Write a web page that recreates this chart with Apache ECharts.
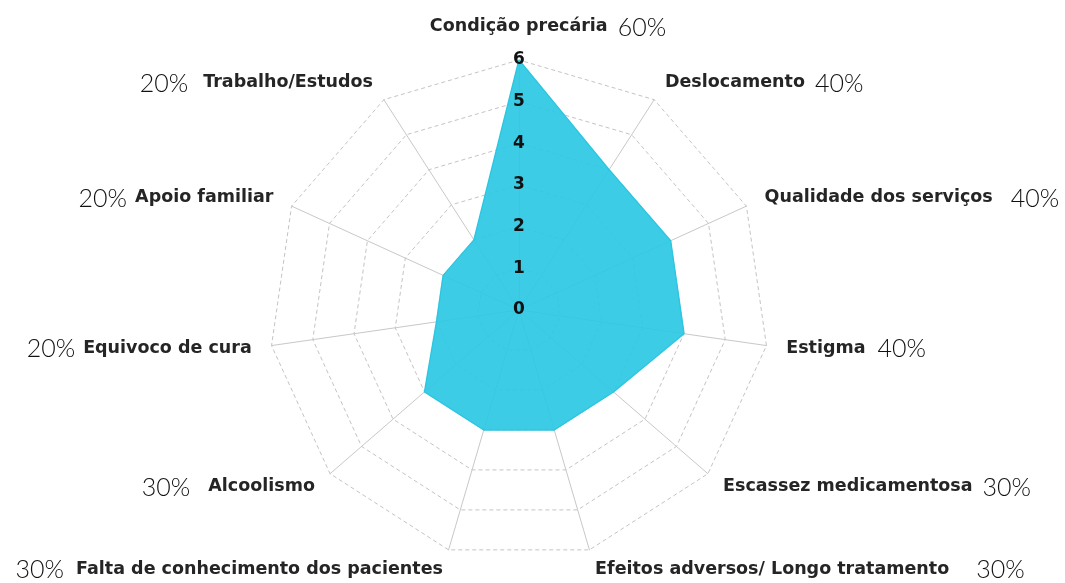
<!DOCTYPE html>
<html>
<head>
<meta charset="utf-8">
<script src="https://cdn.jsdelivr.net/npm/echarts@6/dist/echarts.min.js"></script>
<style>
  html, body { margin: 0; padding: 0; background: #fff; }
  #chart { width: 1065px; height: 583px; }
</style>
</head>
<body>
<div id="chart"></div>
<script>
// indicadores na ordem do ECharts (anti-horário a partir do topo)
var categorias = [
  'Condição precária', 'Trabalho/Estudos', 'Apoio familiar', 'Equivoco de cura',
  'Alcoolismo', 'Falta de conhecimento dos pacientes',
  'Efeitos adversos/ Longo tratamento', 'Escassez medicamentosa',
  'Estigma', 'Qualidade dos serviços', 'Deslocamento'
];
var valores = [6, 2, 2, 2, 3, 3, 3, 3, 4, 4, 4];
var percentuais = ['60%', '20%', '20%', '20%', '30%', '30%', '30%', '30%', '40%', '40%', '40%'];
var maximo = 6;

// espaço entre nome e percentual (px) e lado do percentual
var espacos = [10, 15, 8, 8, 18, 12, 27, 10, 12, 18, 10];
var ladoEsquerdo = [false, true, true, true, true, true, false, false, false, false, false];

var myChart = echarts.init(document.getElementById('chart'));

var rich = {
  n: { fontFamily: 'DejaVu Sans', fontSize: 17.5, fontWeight: 'bold', color: '#252525' },
  s: { width: 58 }
};
for (var i = 0; i < categorias.length; i++) {
  rich['p' + i] = {
    fontFamily: 'Lato', fontSize: 25, fontWeight: 300, color: '#111',
    padding: ladoEsquerdo[i] ? [2, espacos[i], 0, 0] : [2, 0, 0, espacos[i]]
  };
}

var indicadores = categorias.map(function (c) {
  return { name: c, max: maximo, min: 0 };
});
// segunda cópia, só para os rótulos do eixo do topo
var indicadoresRotulo = categorias.map(function (c, i) {
  var ind = { name: c, max: maximo, min: 0 };
  if (i === 0) ind.axisLabel = { show: true };
  return ind;
});

var option = {
  backgroundColor: '#fff',
  animation: false,
  radar: [
    {
      center: [519, 310],
      radius: 250,
      startAngle: 90,
      shape: 'polygon',
      splitNumber: 6,
      indicator: indicadores,
      axisName: {
        formatter: function (name) {
          var i = categorias.indexOf(name);
          if (i === 0) {
            return '{s| }{n|' + name + '}{p0|' + percentuais[0] + '}';
          }
          if (ladoEsquerdo[i]) {
            return '{p' + i + '|' + percentuais[i] + '}{n|' + name + '}';
          }
          return '{n|' + name + '}{p' + i + '|' + percentuais[i] + '}';
        },
        rich: rich
      },
      nameGap: 20,
      splitArea: { show: false },
      splitLine: {
        lineStyle: { color: '#c4c4c4', type: [4, 3], width: 1 }
      },
      axisLine: {
        lineStyle: { color: '#c8c8c8', width: 1 }
      }
    },
    {
      z: 5,
      center: [519, 310],
      radius: 250,
      startAngle: 90,
      shape: 'polygon',
      splitNumber: 6,
      indicator: indicadoresRotulo,
      axisName: { show: false },
      splitArea: { show: false },
      splitLine: { show: false },
      axisLine: { show: false },
      axisLabel: {
        show: false,
        color: '#111',
        fontFamily: 'DejaVu Sans',
        fontSize: 17,
        fontWeight: 'bold',
        margin: 0,
        align: 'center',
        hideOverlap: false
      }
    }
  ],
  series: [
    {
      type: 'radar',
      radarIndex: 0,
      symbol: 'none',
      lineStyle: { color: '#2fc4df', width: 1.5 },
      areaStyle: { color: '#2cc8e4', opacity: 0.92 },
      data: [
        { value: valores, name: 'Dificuldades' }
      ]
    }
  ]
};

myChart.setOption(option);
</script>
</body>
</html>
